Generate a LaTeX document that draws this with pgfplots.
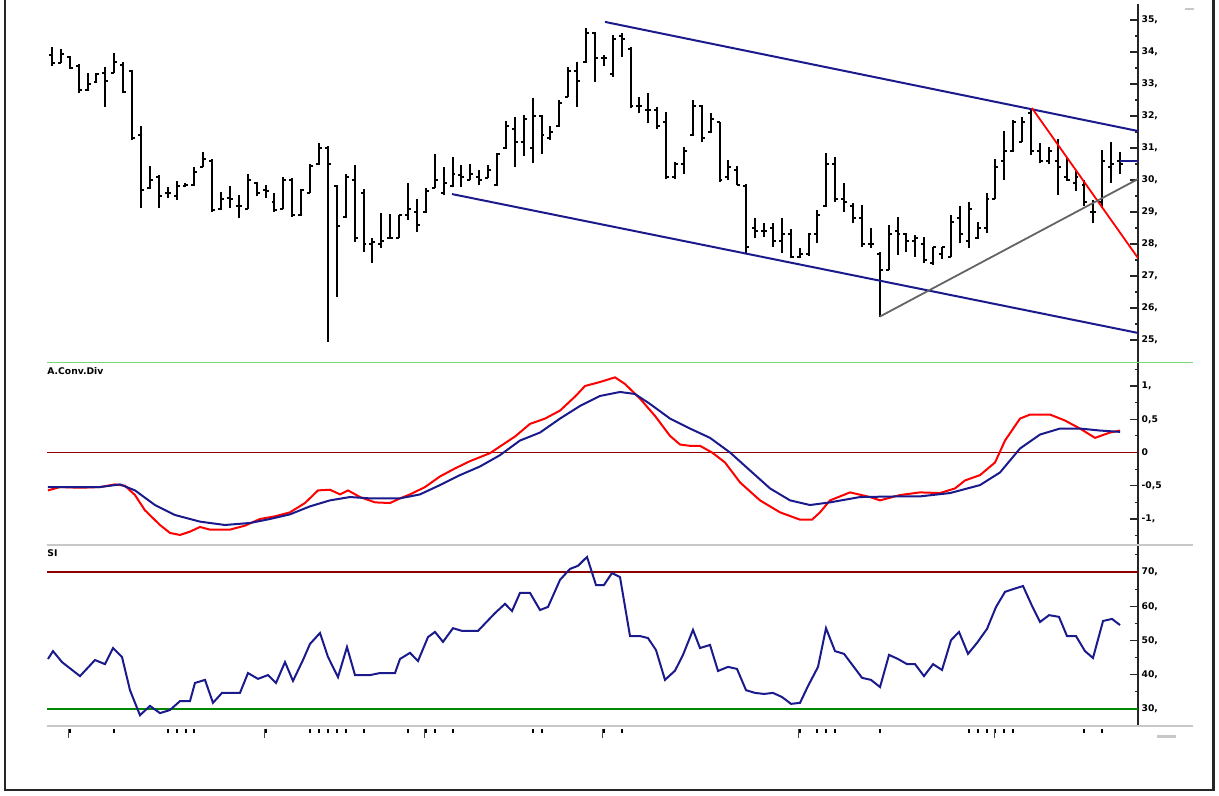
\documentclass[border=0pt]{standalone}
\usepackage{fontspec}
\setmainfont{DejaVu Sans}
\usepackage{pgfplots}
\usepackage{pgfplotstable}
\pgfplotsset{compat=1.18}
\definecolor{navy}{RGB}{26,26,140}
\definecolor{mred}{RGB}{140,0,0}
\definecolor{lgreen}{RGB}{120,215,120}
\definecolor{dgreen}{RGB}{0,135,0}
\definecolor{sepgray}{RGB}{200,200,200}
\definecolor{chgray}{RGB}{100,100,100}
\newcommand\tf{\fontsize{4.6}{5}\selectfont\bfseries}

\pgfplotstableread{
i O H L C
0 33.9 34.17 33.56 33.65
1 33.65 34.08 33.65 33.93
2 33.85 33.87 33.46 33.5
3 33.55 33.61 32.73 32.8
4 32.8 33.33 32.78 33.0
5 33.05 33.35 33.02 33.3
6 33.35 33.52 32.29 33.1
7 33.35 33.96 33.33 33.7
8 33.6 33.70 32.71 32.75
9 33.4 33.44 31.25 31.3
10 31.4 31.69 29.12 29.7
11 29.75 30.44 29.71 30.0
12 30.1 30.16 29.11 29.5
13 29.6 29.79 29.43 29.6
14 29.5 29.98 29.37 29.8
15 29.8 29.92 29.77 29.85
16 29.85 30.42 29.81 30.25
17 30.4 30.89 30.40 30.65
18 30.6 30.65 29.01 29.05
19 29.1 29.63 29.06 29.4
20 29.45 29.81 29.11 29.4
21 29.2 29.53 28.80 29.2
22 29.1 30.19 29.08 30.0
23 29.9 29.95 29.50 29.6
24 29.7 29.84 29.43 29.65
25 29.3 29.58 29.01 29.05
26 29.1 30.08 29.08 30.0
27 30.0 30.05 28.85 28.9
28 28.9 29.71 28.88 29.7
29 29.6 30.5 29.58 30.45
30 30.5 31.17 30.48 31.0
31 31.0 31.05 24.95 30.5
32 29.8 29.84 26.35 28.55
33 28.85 30.19 28.80 30.1
34 30.0 30.47 28.07 28.2
35 29.6 29.71 27.76 28.0
36 28.0 28.18 27.40 28.05
37 28.0 28.98 27.86 28.1
38 28.2 28.94 28.18 28.2
39 28.2 28.91 28.18 28.9
40 28.9 29.92 28.75 29.1
41 29.0 29.40 28.39 28.6
42 29.0 29.74 28.98 29.65
43 29.75 30.81 29.74 30.0
44 29.6 30.40 29.53 29.9
45 29.8 30.71 29.77 30.2
46 30.15 30.47 29.79 30.1
47 30.0 30.5 30.0 30.2
48 30.1 30.31 29.84 30.0
49 30.05 30.47 30.05 30.3
50 29.85 30.85 29.81 30.8
51 31.0 31.85 30.98 31.7
52 31.6 31.96 30.42 31.2
53 31.2 32.03 30.75 31.9
54 31.0 32.55 30.52 32.0
55 32.0 32.02 30.81 31.4
56 31.3 31.69 31.25 31.5
57 31.7 32.5 31.67 32.4
58 32.6 33.52 32.58 33.4
59 33.4 33.70 32.29 33.1
60 33.7 34.75 33.65 34.6
61 34.6 34.62 33.07 33.8
62 33.8 33.91 33.56 33.8
63 33.3 34.53 33.23 34.4
64 34.5 34.58 33.85 34.4
65 34.1 34.17 32.24 32.3
66 32.3 32.6 32.08 32.3
67 32.2 32.71 31.77 32.2
68 32.2 32.29 31.58 31.7
69 31.8 32.14 30.02 30.1
70 30.1 30.57 30.02 30.5
71 30.5 31.04 30.19 30.9
72 31.4 32.5 31.38 32.3
73 32.3 32.34 31.20 31.3
74 31.5 32.10 31.46 31.9
75 31.8 31.82 29.95 30.0
76 30.1 30.63 30.0 30.4
77 30.3 30.44 29.84 29.85
78 29.8 29.88 27.71 27.9
79 28.5 28.80 28.18 28.4
80 28.4 28.67 28.23 28.4
81 28.5 28.67 27.92 28.1
82 28.1 28.80 27.71 28.3
83 28.3 28.46 27.55 27.6
84 27.6 27.86 27.55 27.7
85 27.7 28.33 27.63 28.3
86 28.3 29.06 28.02 28.9
87 29.2 30.85 29.15 30.5
88 30.5 30.71 29.32 29.4
89 29.4 29.9 29.01 29.3
90 29.2 29.27 28.65 28.8
91 28.8 29.22 27.92 28.0
92 28.0 28.49 27.86 28.0
93 27.7 27.76 25.73 27.2
94 27.2 28.59 27.19 28.3
95 28.4 28.85 27.66 28.3
96 28.3 28.35 27.76 28.1
97 28.1 28.28 27.60 28.2
98 28.0 28.23 27.40 27.5
99 27.4 27.92 27.34 27.9
100 27.7 27.92 27.52 27.9
101 27.6 28.91 27.60 28.7
102 28.8 29.19 28.02 28.3
103 28.1 29.32 27.86 29.1
104 28.2 28.70 28.15 28.5
105 28.5 29.60 28.33 29.4
106 29.4 30.65 29.40 30.4
107 30.6 31.54 30.0 30.9
108 30.9 31.88 30.89 31.8
109 31.2 31.98 31.20 31.8
110 32.1 32.19 30.78 30.9
111 30.9 31.17 30.52 30.6
112 30.6 31.02 30.5 30.9
113 30.6 31.27 29.53 30.4
114 30.1 30.73 29.98 30.0
115 29.9 30.29 29.67 30.1
116 29.85 30.0 29.19 29.3
117 29.0 29.38 28.67 29.0
118 29.3 30.94 29.11 30.6
119 30.4 31.20 29.92 30.5
120 30.6 30.89 30.19 30.5
}\ohlc

\pgfplotstableread{
x v
48 -0.57
60 -0.52
80 -0.53
100 -0.52
115 -0.48
125 -0.50
135 -0.64
145 -0.87
160 -1.09
170 -1.21
180 -1.24
190 -1.19
200 -1.12
210 -1.16
230 -1.16
245 -1.10
260 -1.00
275 -0.96
290 -0.90
305 -0.76
318 -0.57
330 -0.56
340 -0.63
348 -0.57
360 -0.67
375 -0.75
390 -0.76
400 -0.69
410 -0.63
425 -0.52
440 -0.36
455 -0.24
470 -0.13
490 -0.01
500 0.09
515 0.24
530 0.43
545 0.51
560 0.63
575 0.84
585 1.00
600 1.06
615 1.13
625 1.03
640 0.81
655 0.55
670 0.25
680 0.12
690 0.10
700 0.10
712 0.00
725 -0.15
740 -0.45
760 -0.72
780 -0.90
800 -1.01
812 -1.01
820 -0.90
830 -0.72
850 -0.60
870 -0.67
880 -0.72
900 -0.64
920 -0.60
940 -0.61
955 -0.54
965 -0.42
980 -0.34
995 -0.15
1005 0.18
1020 0.51
1030 0.57
1050 0.57
1065 0.48
1080 0.36
1095 0.22
1110 0.30
1120 0.33
}\macd

\pgfplotstableread{
x v
48 -0.52
100 -0.52
120 -0.48
135 -0.57
155 -0.79
175 -0.94
200 -1.04
225 -1.09
250 -1.06
270 -1.00
290 -0.93
310 -0.81
330 -0.72
350 -0.67
370 -0.69
400 -0.69
420 -0.63
440 -0.49
460 -0.34
480 -0.21
500 -0.04
520 0.18
540 0.30
560 0.51
580 0.70
600 0.85
620 0.91
635 0.88
650 0.73
670 0.51
690 0.36
710 0.22
730 0.00
750 -0.27
770 -0.54
790 -0.72
810 -0.79
830 -0.75
860 -0.67
900 -0.66
920 -0.66
950 -0.61
980 -0.49
1000 -0.30
1020 0.06
1040 0.27
1060 0.36
1080 0.36
1100 0.33
1120 0.31
}\signal

\pgfplotstableread{
x v
48 44.6
53 46.9
62 43.7
80 39.6
95 44.3
105 43.1
113 47.8
122 45.2
130 35.5
140 28.2
150 30.9
160 28.8
170 29.7
180 32.3
190 32.3
195 37.6
205 38.5
213 31.8
222 34.7
240 34.7
248 40.5
258 38.8
268 39.9
276 37.6
285 43.7
293 38.2
303 44.3
310 49.0
320 52.2
328 45.2
338 39.3
347 48.1
355 39.9
370 39.9
380 40.5
395 40.5
400 44.6
410 46.4
418 44.0
428 51.0
435 52.5
443 49.6
453 53.6
462 52.8
478 52.8
495 58.0
505 60.7
512 58.6
520 63.9
530 63.9
540 58.9
548 59.8
560 67.7
570 70.9
578 71.8
587 74.4
596 66.2
604 66.2
612 69.7
620 68.5
630 51.3
640 51.3
648 50.7
656 47.2
665 38.5
675 41.2
683 45.8
693 53.1
700 47.8
710 48.7
718 41.1
728 42.3
737 41.7
746 35.5
755 34.7
764 34.4
773 34.7
782 33.5
791 31.5
800 31.8
808 36.7
818 42.3
826 53.6
835 46.9
844 46.1
853 42.6
862 39.1
871 38.5
880 36.4
889 45.8
898 44.6
907 43.1
915 43.1
924 39.6
933 43.1
942 41.4
951 50.1
959 52.5
968 46.1
977 49.3
987 53.4
996 59.8
1005 64.2
1013 65.0
1023 65.9
1032 60.1
1040 55.4
1049 57.4
1059 56.9
1067 51.3
1076 51.3
1085 46.9
1093 44.9
1103 55.7
1112 56.3
1120 54.5
}\si

\begin{document}
\begin{tikzpicture}
\useasboundingbox (0,0) rectangle (609.5pt,398pt);
\pgfplotsset{panel/.style={scale only axis, width=545.5pt, xmin=-0.56, xmax=122.02,
  axis x line=none, axis y line*=right,
  axis line style={black!85, line width=0.6pt},
  tick align=inside, major tick length=4pt, minor tick length=1.6pt,
  ytick style={black!85, line width=0.6pt},
  yticklabel style={font=\tf, inner sep=0pt, xshift=1.6pt, anchor=west},
  anchor=south west}}

% ---------- price panel ----------
\begin{axis}[panel, at={(23.5pt,217pt)}, height=179pt, ymin=24.3125, ymax=35.5,
  ytick={25,...,35}, minor ytick={25.5,26.5,...,34.5},
  yticklabels={{25,},{26,},{27,},{28,},{29,},{30,},{31,},{32,},{33,},{34,},{35,}}]
\addplot[black, line width=1pt, quiver={u=0, v=\thisrow{H}-\thisrow{L}}] table[x=i, y=L] {\ohlc};
\addplot[black, line width=1pt, quiver={u=-0.33, v=0}] table[x=i, y=O] {\ohlc};
\addplot[black, line width=1pt, quiver={u=0.33, v=0}] table[x=i, y=C] {\ohlc};
% drawn trend lines
\addplot[navy, line width=1pt] coordinates {(62.13,34.94) (122.02,31.53)};
\addplot[navy, line width=1pt] coordinates {(44.94,29.56) (122.02,25.22)};
\addplot[navy, line width=1pt] coordinates {(120,30.59) (122.02,30.59)};
\addplot[red, line width=0.9pt] coordinates {(110.1,32.25) (122.02,27.56)};
\addplot[chgray, line width=0.9pt] coordinates {(93.0,25.73) (122.02,30.03)};
\end{axis}

% ---------- MACD panel ----------
\begin{axis}[panel, at={(23.5pt,125.5pt)}, height=91.5pt, ymin=-1.391, ymax=1.361,
  ytick={-1,-0.5,0,0.5,1}, minor ytick={-1.25,-0.75,-0.25,0.25,0.75,1.25},
  yticklabels={{-1,},{-0,5},0,{0,5},{1,}}]
\addplot[mred, line width=0.8pt] coordinates {(-0.56,0) (122.02,0)};
\addplot[red, line width=1pt] table[x expr=(\thisrow{x}-52)/8.9, y=v] {\macd};
\addplot[navy, line width=1pt] table[x expr=(\thisrow{x}-52)/8.9, y=v] {\signal};
\end{axis}

% ---------- SI panel ----------
\begin{axis}[panel, at={(23.5pt,35pt)}, height=90.5pt, ymin=25.04, ymax=77.88,
  ytick={30,40,50,60,70}, minor ytick={35,45,55,65,75},
  yticklabels={{30,},{40,},{50,},{60,},{70,}}]
\addplot[mred, line width=0.8pt] coordinates {(-0.56,70) (122.02,70)};
\addplot[dgreen, line width=0.8pt] coordinates {(-0.56,30) (122.02,30)};
\addplot[navy, line width=1pt] table[x expr=(\thisrow{x}-52)/8.9, y=v] {\si};
\end{axis}

% ---------- frame and decorations (pixel coordinates) ----------
\begin{scope}[x=0.5pt, y=-0.5pt, shift={(0,398pt)}]
\draw[black!85, line width=1.3pt] (5,0) -- (5,790) -- (1213.5,790) -- (1213.5,0);
\draw[lgreen, line width=0.7pt] (47,362.5) -- (1193,362.5);
\draw[sepgray, line width=0.9pt] (47,545) -- (1193,545);
\draw[sepgray, line width=0.9pt] (47,726) -- (1193,726);
\draw[sepgray, line width=1.4pt] (1185,9) -- (1194,9);
\draw[sepgray, line width=1.4pt] (1157,736.5) -- (1176,736.5);
\node[anchor=north west, inner sep=0pt, font=\tf] at (47,367) {A.Conv.Div};
\node[anchor=north west, inner sep=0pt, font=\tf] at (47,549) {SI};
\foreach \i in {7,13,14,15,16,29,30,31,32,33,35,40,43,45,54,55,64,86,87,88,93,103,104,105,107,108,116,118}
  \draw[black, line width=1pt] ({52+8.9*\i},729) -- ({52+8.9*\i},733);
\foreach \i in {2,24,42,62,84,106}
  {\draw[black, line width=1pt] ({52+8.9*\i},729) -- ({52+8.9*\i},733);
   \draw[black!70, line width=0.4pt] ({52+8.9*\i-1.5},729) -- ({52+8.9*\i-1.5},738);}
\end{scope}
\end{tikzpicture}
\end{document}
